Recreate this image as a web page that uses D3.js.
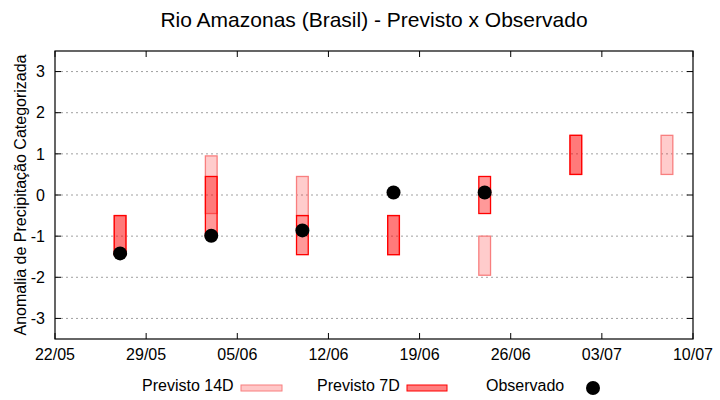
<!DOCTYPE html>
<html>
<head>
<meta charset="utf-8">
<script src="https://cdn.jsdelivr.net/npm/d3@7"></script>
<style>
body { margin: 0; background: #fff; }
text { font-family: "Liberation Sans", Arial, sans-serif; fill: #000; }
</style>
</head>
<body>
<div id="plot"></div>
<script>
// datas dos previstos/observados
var dates = ["2024-05-27", "2024-06-03", "2024-06-10", "2024-06-17", "2024-06-24", "2024-07-01", "2024-07-08"];
var prev14Min = [-1.45, -0.45, -0.5, -1.45, -1.95, 0.5, 0.5];
var prev14Max = [-0.5, 0.95, 0.45, -0.5, -1.0, 1.45, 1.45];
var prev7Min = [-1.45, -1.0, -1.45, -1.45, -0.45, 0.5, null];
var prev7Max = [-0.5, 0.45, -0.5, -0.5, 0.45, 1.45, null];
var observado = [-1.42, -0.99, -0.86, 0.06, 0.06, null, null];
var yTicks = [-3, -2, -1, 0, 1, 2, 3];
var xTickDates = ["2024-05-22", "2024-05-29", "2024-06-05", "2024-06-12", "2024-06-19", "2024-06-26", "2024-07-03", "2024-07-10"];
var xStart = "2024-05-22", xEnd = "2024-07-10";

var W = 720, H = 400;
var margin = { top: 51, left: 55, right: 27, bottom: 61 };
var parse = d3.timeParse("%Y-%m-%d");
var fmt = d3.timeFormat("%d/%m");
var day = 864e5;

var svg = d3.select("#plot").append("svg")
	.attr("width", W).attr("height", H);

var x = d3.scaleTime()
	.domain([parse(xStart), parse(xEnd)])
	.range([margin.left, W - margin.right]);
var y = d3.scaleLinear()
	.domain([-3.5, 3.5])
	.range([H - margin.bottom, margin.top]);

var x0 = margin.left, x1 = W - margin.right, y0 = margin.top, y1 = H - margin.bottom;

//grid
svg.selectAll(".grid").data(yTicks).enter().append("line")
	.attr("x1", x0 + 1).attr("x2", x1 - 5)
	.attr("y1", function(d) { return y(d); })
	.attr("y2", function(d) { return y(d); })
	.attr("stroke", "#a0a0a0")
	.attr("stroke-dasharray", "2,3");

var xTicks = xTickDates.map(parse);

function boxes(cls, mins, maxs, fill, stroke) {
	var rows = [];
	dates.forEach(function(d, i) {
		if (mins[i] != null) rows.push({ d: parse(d), lo: mins[i], hi: maxs[i] });
	});
	svg.selectAll("." + cls).data(rows).enter().append("rect")
		.attr("class", cls)
		.attr("x", function(r) { return x(new Date(r.d.getTime() - 0.45 * day)); })
		.attr("width", function(r) { return x(new Date(r.d.getTime() + 0.45 * day)) - x(new Date(r.d.getTime() - 0.45 * day)); })
		.attr("y", function(r) { return y(r.hi); })
		.attr("height", function(r) { return y(r.lo) - y(r.hi); })
		.attr("fill", fill)
		.attr("stroke", stroke)
		.attr("stroke-width", 1.3);
}
boxes("p14", prev14Min, prev14Max, "rgba(255,0,0,0.2)", "#f87f7f");
boxes("p7", prev7Min, prev7Max, "rgba(255,0,0,0.4)", "#ff0000");

var obs = [];
dates.forEach(function(d, i) { if (observado[i] != null) obs.push({ d: parse(d), v: observado[i] }); });
svg.selectAll(".obs").data(obs).enter().append("circle")
	.attr("cx", function(r) { return x(r.d); })
	.attr("cy", function(r) { return y(r.v); })
	.attr("r", 7)
	.attr("fill", "#000");

//frame
svg.append("rect")
	.attr("x", x0).attr("y", y0)
	.attr("width", x1 - x0).attr("height", y1 - y0)
	.attr("fill", "none").attr("stroke", "#000").attr("stroke-width", 1.2);

// ticks (inward, mirrored)
var tl = 6;
yTicks.forEach(function(t) {
	svg.append("line").attr("x1", x0).attr("x2", x0 + tl).attr("y1", y(t)).attr("y2", y(t)).attr("stroke", "#000");
	svg.append("line").attr("x1", x1).attr("x2", x1 - tl).attr("y1", y(t)).attr("y2", y(t)).attr("stroke", "#000");
	svg.append("text").attr("x", x0 - 10).attr("y", y(t)).attr("dy", "0.36em")
		.attr("text-anchor", "end").style("font-size", "16px").text(t);
});
xTicks.forEach(function(t) {
	svg.append("line").attr("x1", x(t)).attr("x2", x(t)).attr("y1", y1).attr("y2", y1 - tl).attr("stroke", "#000");
	svg.append("line").attr("x1", x(t)).attr("x2", x(t)).attr("y1", y0).attr("y2", y0 + tl).attr("stroke", "#000");
	svg.append("text").attr("x", x(t)).attr("y", y1 + 21)
		.attr("text-anchor", "middle").style("font-size", "16px").text(fmt(t));
});

svg.append("text")
	.attr("x", (x0 + x1) / 2).attr("y", 27)
	.attr("text-anchor", "middle").style("font-size", "21px")
	.text("Rio Amazonas (Brasil) - Previsto x Observado");

svg.append("text")
	.attr("transform", "translate(26," + ((y0 + y1) / 2) + ") rotate(-90)")
	.attr("text-anchor", "middle").style("font-size", "16px")
	.text("Anomalia de Precipitação Categorizada");

// legenda
var leg = svg.append("g");
leg.append("text").attr("x", 142).attr("y", 391).style("font-size", "16px").text("Previsto 14D");
leg.append("rect").attr("x", 241).attr("y", 385).attr("width", 41).attr("height", 6)
	.attr("fill", "rgba(255,0,0,0.22)").attr("stroke", "#f87f7f");
leg.append("text").attr("x", 317).attr("y", 391).style("font-size", "16px").text("Previsto 7D");
leg.append("rect").attr("x", 407).attr("y", 385).attr("width", 40).attr("height", 6)
	.attr("fill", "rgba(255,0,0,0.5)").attr("stroke", "#ff0000");
leg.append("text").attr("x", 486).attr("y", 391).style("font-size", "16px").text("Observado");
leg.append("circle").attr("cx", 593).attr("cy", 388).attr("r", 7).attr("fill", "#000");
</script>
</body>
</html>
